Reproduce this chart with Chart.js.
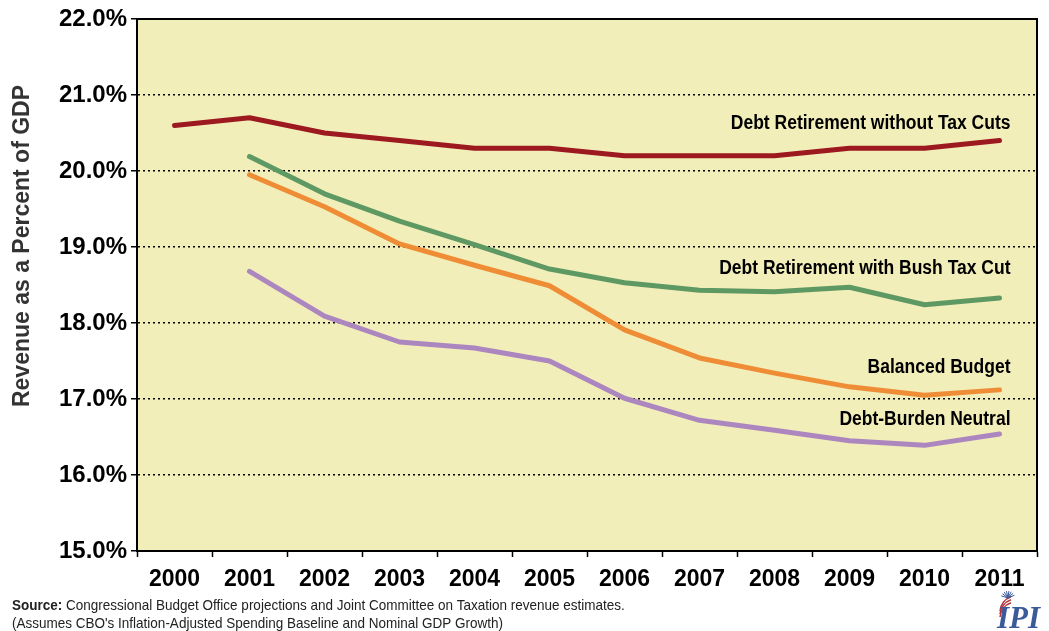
<!DOCTYPE html>
<html>
<head>
<meta charset="utf-8">
<style>
  html, body { margin: 0; padding: 0; background: #fff; }
  #wrap { width: 1049px; height: 631px; position: relative; }
</style>
<script src="https://cdn.jsdelivr.net/npm/chart.js@4.4.1/dist/chart.umd.min.js"></script>
</head>
<body>
<div id="wrap"><canvas id="revChart" width="1049" height="631"></canvas></div>
<script>
// Revenue as a percent of GDP, by scenario
const years = ['2000', '2001', '2002', '2003', '2004', '2005', '2006', '2007', '2008', '2009', '2010', '2011'];
const noTaxCut = [20.6, 20.7, 20.5, 20.4, 20.3, 20.3, 20.2, 20.2, 20.2, 20.3, 20.3, 20.4];
const bushTaxCut = [null, 20.19, 19.70, 19.34, 19.03, 18.71, 18.53, 18.43, 18.41, 18.47, 18.24, 18.33];
const balancedBudget = [null, 19.95, 19.53, 19.04, 18.76, 18.49, 17.91, 17.54, 17.34, 17.16, 17.05, 17.12];
const burdenNeutral = [null, 18.68, 18.09, 17.75, 17.67, 17.50, 17.01, 16.72, 16.59, 16.45, 16.39, 16.54];
const seriesNames = ['Debt Retirement without Tax Cuts', 'Debt Retirement with Bush Tax Cut', 'Balanced Budget', 'Debt-Burden Neutral'];
const yTicks = [15, 16, 17, 18, 19, 20, 21, 22];

const FONT = '"Liberation Sans", Arial, sans-serif';

// label offsets (pixels) relative to the last point of each line
const labelShift = [-17, -29, -22, -14];

// draws condensed text by squeezing the canvas horizontally
function narrowText(ctx, text, x, y, squeeze) {
    ctx.save();
    ctx.translate(x, y);
    ctx.scale(squeeze, 1);
    ctx.fillText(text, 0, 0);
    ctx.restore();
}

const plotFrame = {
    id: 'plotFrame',
    beforeDraw(chart) {
        const a = chart.chartArea;
        const ctx = chart.ctx;
        ctx.save();
        ctx.fillStyle = '#F2EEB9';
        ctx.fillRect(a.left, a.top, a.right - a.left, a.bottom - a.top);
        ctx.restore();
    },
    afterDatasetsDraw(chart) {
        const a = chart.chartArea;
        const ctx = chart.ctx;
        ctx.save();
        ctx.strokeStyle = '#000';
        ctx.lineWidth = 2;
        ctx.beginPath();
        ctx.moveTo(a.left, a.top);
        ctx.lineTo(a.right, a.top);
        ctx.lineTo(a.right, a.bottom);
        ctx.stroke();

        // y axis title (sits a bit above the axis middle, as in the original)
        ctx.save();
        ctx.translate(23, 246);
        ctx.rotate(-Math.PI / 2);
        ctx.fillStyle = '#333';
        ctx.font = 'bold 23px ' + FONT;
        ctx.textAlign = 'center';
        ctx.textBaseline = 'middle';
        ctx.fillText('Revenue as a Percent of GDP', 0, 0);
        ctx.restore();

        // series labels
        const xs = chart.scales.x;
        const ys = chart.scales.y;
        ctx.fillStyle = '#000';
        ctx.font = 'bold 20px ' + FONT;
        ctx.textAlign = 'right';
        ctx.textBaseline = 'middle';
        chart.data.datasets.forEach((ds, i) => {
            const last = ds.data.length - 1;
            const px = xs.getPixelForValue(last) + 11;
            const py = ys.getPixelForValue(ds.data[last]) + labelShift[i];
            narrowText(ctx, seriesNames[i], px, py, 0.875);
        });

        // source note
        ctx.textAlign = 'left';
        ctx.textBaseline = 'alphabetic';
        ctx.fillStyle = '#222';
        ctx.font = 'bold 15px ' + FONT;
        narrowText(ctx, 'Source:', 12, 610, 0.9);
        const w = ctx.measureText('Source: ').width * 0.9;
        ctx.font = '15px ' + FONT;
        narrowText(ctx, 'Congressional Budget Office projections and Joint Committee on Taxation revenue estimates.', 12 + w, 610, 0.9);
        narrowText(ctx, "(Assumes CBO's Inflation-Adjusted Spending Baseline and Nominal GDP Growth)", 12, 628, 0.9);

        // IPI logo
        ctx.strokeStyle = '#B5343A';
        ctx.lineWidth = 1.5;
        for (let k = 0; k < 3; k++) {
            ctx.beginPath();
            ctx.arc(1016, 612 + k * 3, 16, Math.PI * 1.02, Math.PI * 1.4);
            ctx.stroke();
        }
        ctx.strokeStyle = '#3A5A9A';
        ctx.lineWidth = 1;
        for (let k = 0; k < 8; k++) {
            const ang = Math.PI * (1.1 + k * 0.11);
            ctx.beginPath();
            ctx.moveTo(1008, 598);
            ctx.lineTo(1008 + Math.cos(ang) * 7, 598 + Math.sin(ang) * 7);
            ctx.stroke();
        }
        ctx.fillStyle = '#3A5A9A';
        ctx.font = 'italic bold 31px "Liberation Serif", "DejaVu Serif", serif';
        ctx.fillText('IPI', 997, 628);
        ctx.restore();
    }
};

const lineStyle = (label, data, color) => ({
    label: label,
    data: data,
    borderColor: color,
    backgroundColor: color,
    borderWidth: 5,
    borderCapStyle: 'round',
    borderJoinStyle: 'round',
    pointRadius: 0,
    tension: 0,
    spanGaps: false
});

new Chart(document.getElementById('revChart'), {
    type: 'line',
    data: {
        labels: years,
        datasets: [
            lineStyle(seriesNames[0], noTaxCut, '#9C1A1F'),
            lineStyle(seriesNames[1], bushTaxCut, '#5E9963'),
            lineStyle(seriesNames[2], balancedBudget, '#EF8D37'),
            lineStyle(seriesNames[3], burdenNeutral, '#AC86BF')
        ]
    },
    options: {
        responsive: false,
        animation: false,
        layout: { padding: { top: 19, right: 12, left: 0, bottom: 0 } },
        plugins: {
            legend: { display: false },
            tooltip: { enabled: false }
        },
        scales: {
            x: {
                offset: true,
                grid: {
                    offset: true,
                    drawOnChartArea: false,
                    drawTicks: true,
                    tickLength: 6,
                    tickColor: '#000',
                    tickWidth: 1.5
                },
                border: { display: true, color: '#000', width: 2 },
                ticks: {
                    color: '#000',
                    padding: 9,
                    maxRotation: 0,
                    font: { family: FONT, size: 23, weight: 'bold' }
                },
                afterFit(scale) { scale.height = 80; }
            },
            y: {
                min: 15,
                max: 22,
                afterBuildTicks(scale) { scale.ticks = yTicks.map(v => ({ value: v })); },
                grid: {
                    color: ctx => (ctx.tick && (ctx.tick.value === 15 || ctx.tick.value === 22)) ? 'rgba(0,0,0,0)' : '#000',
                    lineWidth: 1.5,
                    tickColor: '#000',
                    tickLength: 6,
                    tickWidth: 1.5
                },
                border: { display: true, color: '#000', width: 2, dash: [2, 3] },
                ticks: {
                    color: '#000',
                    padding: 4,
                    font: { family: FONT, size: 24, weight: 'bold' },
                    callback: v => v.toFixed(1) + '%'
                },
                afterFit(scale) { scale.width = 137; }
            }
        }
    },
    plugins: [plotFrame]
});
</script>
</body>
</html>
